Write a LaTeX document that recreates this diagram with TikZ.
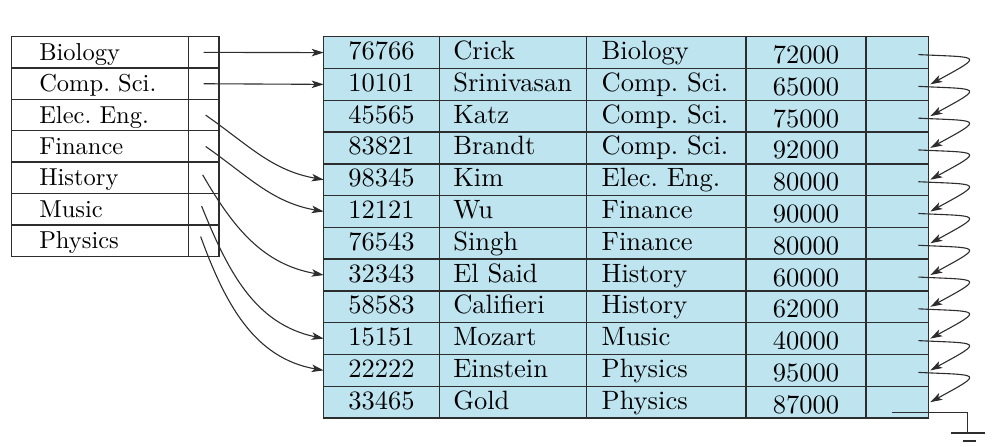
\documentclass[tikz,border=0pt]{standalone}
\usepackage{fontspec}
\setmainfont{lmroman10-regular.otf}
\usepackage{xcolor}
\definecolor{rowblue}{RGB}{190,228,240}
\definecolor{gridline}{RGB}{45,45,45}
\usepackage{tikz}
\usetikzlibrary{arrows.meta,positioning,calc}

\tikzset{
  cell/.style={draw=gridline, line width=1.4pt, inner sep=0pt, outer sep=0pt,
    anchor=north west, minimum height=31.78pt,
    font=\fontsize{26.5}{26.5}\selectfont, text height=18pt, text depth=4pt},
  idcell/.style={cell, fill=rowblue, minimum width=115.6pt},
  nmcell/.style={cell, fill=rowblue, text width=147.4pt, align=left,
    execute at begin node={\hspace*{14pt}}},
  dpcell/.style={cell, fill=rowblue, text width=159.3pt, align=left,
    execute at begin node={\hspace*{15pt}}},
  salcell/.style={cell, fill=rowblue, minimum width=120pt,
    text height=22pt, text depth=0pt},
  ptrcell/.style={cell, fill=rowblue, minimum width=62.3pt},
  lbcell/.style={cell, fill=white, minimum height=31.36pt, text width=176.6pt,
    align=left, font=\fontsize{24.5}{24.5}\selectfont,
    text height=19pt, text depth=3pt,
    execute at begin node={\hspace*{27.6pt}}},
  lpcell/.style={cell, fill=white, minimum height=31.36pt, minimum width=30.7pt},
  ptr/.style={draw=gridline, line width=1.1pt,
    -{Stealth[length=12pt,width=7.5pt,inset=3pt]}},
  wire/.style={draw=gridline, line width=1.1pt}
}

\begin{document}
\frenchspacing
\begin{tikzpicture}[x=1pt,y=-1pt]
  \useasboundingbox (0,0) rectangle (999,447);
  % 主文件
  \foreach \id/\nm/\dept/\sal [count=\r from 0] in {
      76766/Crick/Biology/72000, 10101/Srinivasan/Comp. Sci./65000,
      45565/Katz/Comp. Sci./75000, 83821/Brandt/Comp. Sci./92000,
      98345/Kim/Elec. Eng./80000, 12121/Wu/Finance/90000,
      76543/Singh/Finance/80000, 32343/El Said/History/60000,
      58583/Califieri/History/62000, 15151/Mozart/Music/40000,
      22222/Einstein/Physics/95000, 33465/Gold/Physics/87000} {
    \node[idcell] (id\r) at (323.7,{36.7+\r*31.78}) {\id};
    \node[nmcell, right=0pt of id\r] (nm\r) {\nm};
    \node[dpcell, right=0pt of nm\r] (dp\r) {\dept};
    \node[salcell, right=0pt of dp\r] (sal\r) {\sal};
    \node[ptrcell, right=0pt of sal\r] (p\r) {};
  }
  % 索引
  \foreach \lb [count=\r from 0] in {Biology, Comp. Sci., Elec. Eng., Finance,
      History, Music, Physics} {
    \node[lbcell] (lb\r) at (11.7,{36.7+\r*31.36}) {\lb};
    \node[lpcell, right=0pt of lb\r] (lp\r) {};
  }
  % 索引指针
  \draw[ptr] (lp0.center) -- (id0.west);
  \draw[ptr] (lp1.center) -- (id1.west);
  \draw[ptr] ([xshift=2pt]lp2.center) to[out=-35,in=170] (id4.west);
  \draw[ptr] ([xshift=2pt]lp3.center) to[out=-35,in=170] (id5.west);
  \draw[ptr] ([xshift=-1pt,yshift=3pt]lp4.center) to[out=-60,in=170] (id7.west);
  \draw[ptr] ([xshift=-2pt,yshift=3pt]lp5.center) to[out=-68,in=168] (id9.west);
  \draw[ptr] ([xshift=-3pt,yshift=4pt]lp6.center) to[out=-70,in=170] (id10.west);
  % 链表指针
  \foreach \r [evaluate=\r as \s using int(\r+1)] in {0,...,10}
    \draw[ptr] ([xshift=-10pt,yshift=-2pt]p\r.east) .. controls +(62,3) and +(55,-30)
      .. ([xshift=2pt]p\s.east);
  % 接地
  \coordinate (gnd) at (967.5,433);
  \draw[wire] ([xshift=-36pt,yshift=-10pt]p11.east) -| (gnd);
  \draw[wire] ([xshift=-17pt]gnd) -- ([xshift=17pt]gnd);
  \draw[gridline, line width=2pt] ([xshift=-4.5pt,yshift=-8pt]gnd) -- ([xshift=8.5pt,yshift=-8pt]gnd);
\end{tikzpicture}
\end{document}
